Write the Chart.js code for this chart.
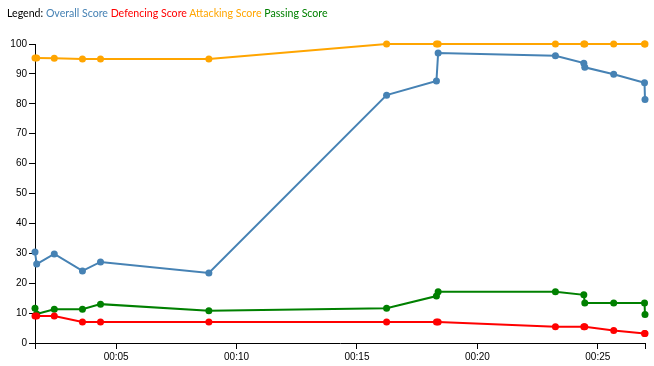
<!DOCTYPE html>
<html>
<head>
<meta charset="utf-8">
<script src="https://cdn.jsdelivr.net/npm/chart.js@4"></script>
<style>
  body { margin: 0; background: #fff; }
  #wrap { position: relative; width: 654px; height: 366px; }
  #legend { position: absolute; left: 7px; top: 7px; font: 10.6px Lato, sans-serif; white-space: nowrap; }
</style>
</head>
<body>
<div id="wrap">
  <div id="legend"></div>
  <canvas id="scoreChart" width="654" height="366"></canvas>
</div>
<script>
// time of each sample, in minutes
const times = [1.63, 1.70, 2.43, 3.60, 4.35, 8.85, 16.23, 18.30, 18.37, 23.24, 24.42, 24.46, 25.66, 26.94, 26.96];
const overallScore   = [30.4, 26.4, 29.8, 24.1, 27.1, 23.4, 82.9, 87.6, 97.0, 96.1, 93.6, 92.2, 89.9, 87.0, 81.4];
const defencingScore = [9.0, 9.0, 9.0, 7.0, 7.0, 7.0, 7.0, 7.0, 7.0, 5.4, 5.4, 5.4, 4.2, 3.2, 3.2];
const attackingScore = [95.3, 95.3, 95.2, 95.0, 95.0, 95.0, 100, 100, 100, 100, 100, 100, 100, 100, 100];
const passingScore   = [11.6, 9.7, 11.3, 11.3, 13.0, 10.8, 11.6, 15.7, 17.1, 17.1, 16.1, 13.4, 13.4, 13.4, 9.5];

const seriesNames = ['Overall Score', 'Defencing Score', 'Attacking Score', 'Passing Score'];
const seriesColors = ['#4682b4', '#ff0000', '#ffa500', '#008000'];
const xTicks = [5, 10, 15, 20, 25];

// legend text
const legend = document.getElementById('legend');
legend.innerHTML = 'Legend: ' + seriesNames.map((n, i) =>
  `<span style="color:${seriesColors[i]}">${n}</span>`).join(' ');

const toPoints = vals => vals.map((v, i) => ({ x: times[i], y: v }));

const datasets = [overallScore, defencingScore, attackingScore, passingScore].map((vals, i) => ({
  label: seriesNames[i],
  data: toPoints(vals),
  borderColor: seriesColors[i],
  backgroundColor: seriesColors[i],
  borderWidth: 2,
  pointRadius: 3.5,
  pointBorderWidth: 0,
  tension: 0,
  clip: false
}));

const tmin = times[0], tmax = times[times.length - 1];
const tickFont = { family: '"Liberation Sans", Arial, sans-serif', size: 10 };

const config = {
  type: 'line',
  data: { datasets: datasets },
  options: {
    responsive: false,
    animation: false,
    layout: { padding: { left: 0, right: 9, top: 44, bottom: 0 } },
    plugins: { legend: { display: false }, tooltip: { enabled: false } },
    scales: {
      x: {
        type: 'linear',
        min: tmin,
        max: tmax,
        afterBuildTicks: axis => {
          axis.ticks = [tmin].concat(xTicks, [tmax]).map(v => ({ value: v }));
        },
        afterFit: axis => { axis.height = 23; },
        ticks: {
          autoSkip: false,
          maxRotation: 0,
          color: '#000',
          font: tickFont,
          padding: 2,
          callback: v => xTicks.includes(v) ? '00:' + String(v).padStart(2, '0') : ''
        },
        grid: { drawOnChartArea: false, color: '#000', tickLength: 6 },
        border: { color: '#000', width: 1 }
      },
      y: {
        min: 0,
        max: 100,
        afterFit: axis => { axis.width = 35; },
        ticks: { stepSize: 10, color: '#000', font: tickFont, padding: 2 },
        grid: { drawOnChartArea: false, color: '#000', tickLength: 6 },
        border: { color: '#000', width: 1 }
      }
    }
  }
};

new Chart(document.getElementById('scoreChart').getContext('2d'), config);
</script>
</body>
</html>
